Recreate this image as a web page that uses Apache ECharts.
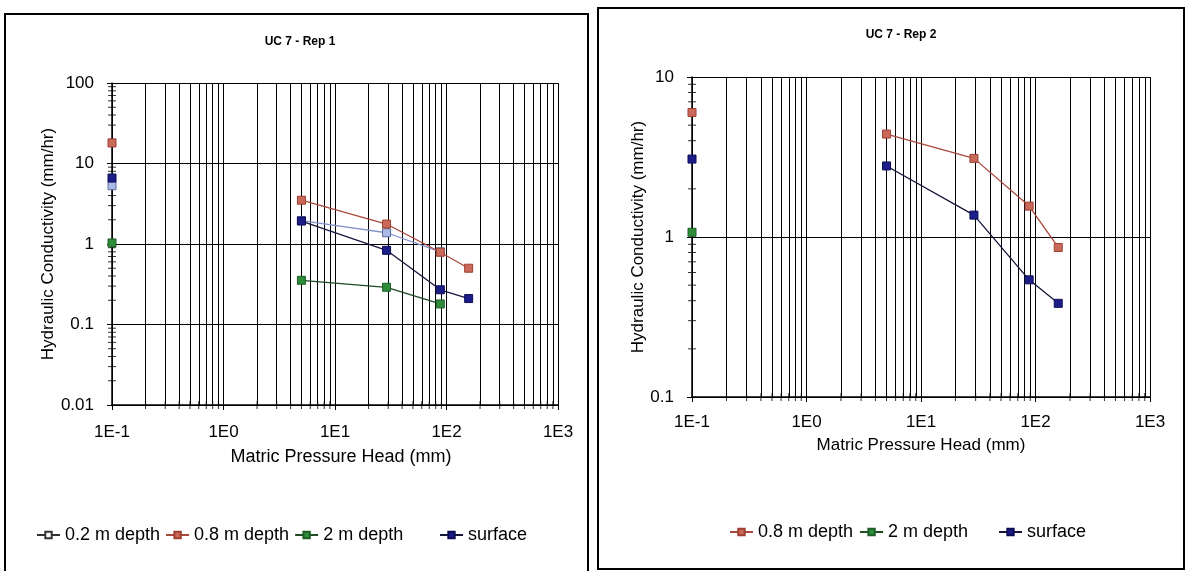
<!DOCTYPE html>
<html><head><meta charset="utf-8">
<script src="https://cdn.jsdelivr.net/npm/echarts@6/dist/echarts.min.js"></script>
<style>html,body{margin:0;padding:0;background:#fff}#c{width:1189px;height:571px}</style>
</head><body><div id="c"></div>
<script>
// ---- data ----
const titles = ['UC 7 - Rep 1', 'UC 7 - Rep 2'];
const xTickLabels = ['1E-1', '1E0', '1E1', '1E2', '1E3'];
const yTickLabelsRep1 = ['0.01', '0.1', '1', '10', '100'];
const yTickLabelsRep2 = ['0.1', '1', '10'];
const pressureHead = [0.1, 5, 29, 88, 158];           // mm (first value: saturated, plotted at axis)
const rep1_02m   = [5.3, 1.95, 1.38, 0.80, null];
const rep1_08m   = [18, 3.5, 1.77, 0.79, 0.50];
const rep1_2m    = [1.03, 0.354, 0.29, 0.18, null];
const rep1_surf  = [6.6, 1.93, 0.835, 0.27, 0.21];
const rep2_08m   = [6.0, 4.4, 3.1, 1.56, 0.86];
const rep2_2m    = [1.07, null, null, null, null];
const rep2_surf  = [3.07, 2.78, 1.37, 0.54, 0.385];
const minorMult  = [2, 3, 4, 5, 6, 7, 8, 9];

// ---- helpers ----
function pts(ys) {
  const out = [];
  ys.forEach((y, i) => {
    if (i === 1) out.push(['-', '-']);          // no line from the axis point
    if (y !== null) out.push([pressureHead[i], y]);
  });
  return out;
}
function minorVals(minExp, maxExp) {
  const v = [];
  for (let e = minExp; e < maxExp; e++) minorMult.forEach(m => v.push(+(m * Math.pow(10, e)).toPrecision(3)));
  return v;
}
const xMinor = minorVals(-1, 3);
const FONT = 'Liberation Sans, Arial, sans-serif';

const sty = {
  '0.2 m depth': {c: '#aab9e6', b: '#5d6c9c', l: '#8396cc'},
  '0.8 m depth': {c: '#c9695a', b: '#9e3f31', l: '#a9483a'},
  '2 m depth':   {c: '#2f8c3b', b: '#1e5e27', l: '#1d4a22'},
  'surface':     {c: '#1d1d8a', b: '#0d0d55', l: '#15153a'}
};
function lineSeries(name, ys, gi) {
  const s = sty[name];
  return {
    type: 'line', name, xAxisIndex: gi, yAxisIndex: gi, data: pts(ys),
    symbol: 'rect', symbolSize: 8, clip: false, connectNulls: false,
    itemStyle: {color: s.c, borderColor: s.b, borderWidth: 1},
    lineStyle: {color: s.l, width: 1.3}, z: 5
  };
}
function gridDecor(gi, yMinExp, yMaxExp) {
  const yMin = Math.pow(10, yMinExp);
  return [
    { type: 'line', xAxisIndex: gi, yAxisIndex: gi, data: [], silent: true,
      markLine: { silent: true, symbol: 'none', label: {show: false},
        lineStyle: {color: '#000', width: 1, type: 'solid'},
        data: xMinor.map(v => ({xAxis: v})) } },
    { type: 'scatter', xAxisIndex: gi, yAxisIndex: gi, silent: true, clip: false,
      symbol: 'rect', symbolSize: [8, 1], itemStyle: {color: '#000'},
      data: minorVals(yMinExp, yMaxExp).map(v => [0.1, v]), z: 3 },
    { type: 'scatter', xAxisIndex: gi, yAxisIndex: gi, silent: true, clip: false,
      symbol: 'rect', symbolSize: [1, 8], itemStyle: {color: '#000'},
      data: xMinor.map(v => [v, yMin]), z: 3 }
  ];
}
function xAxis(gi, margin, nameGap, nameSize, pad) {
  return {
    type: 'log', logBase: 10, min: 0.1, max: 1000, gridIndex: gi,
    name: 'Matric Pressure Head (mm)', nameLocation: 'middle', nameGap,
    nameTextStyle: {fontFamily: FONT, fontSize: nameSize, color: '#000', padding: pad},
    axisLine: {lineStyle: {color: '#000', width: 1.5}},
    axisTick: {show: true, inside: false, length: 5, lineStyle: {color: '#000'}},
    axisLabel: {fontFamily: FONT, fontSize: 17, color: '#000', margin,
      formatter: v => xTickLabels[Math.round(Math.log10(v)) + 1]},
    splitLine: {show: true, lineStyle: {color: '#000', width: 1}},
    minorTick: {show: false}, minorSplitLine: {show: false}
  };
}
function yAxis(gi, min, max, labels, minExp, nameGap, nameSize) {
  return {
    type: 'log', logBase: 10, min, max, gridIndex: gi,
    name: 'Hydraulic Conductivity (mm/hr)', nameLocation: 'middle', nameGap, nameRotate: 90,
    nameTextStyle: {fontFamily: FONT, fontSize: nameSize, color: '#000'},
    axisLine: {lineStyle: {color: '#000', width: 1.5}},
    axisTick: {show: true, inside: false, length: 5, lineStyle: {color: '#000'}},
    axisLabel: {fontFamily: FONT, fontSize: 17, color: '#000', margin: 18,
      formatter: v => labels[Math.round(Math.log10(v)) - minExp]},
    splitLine: {show: true, lineStyle: {color: '#000', width: 1}},
    minorTick: {show: false}, minorSplitLine: {show: false}
  };
}
const legendText = {fontFamily: FONT, fontSize: 18, color: '#000'};

const option = {
  backgroundColor: '#fff',
  animation: false,
  graphic: [
    {type: 'rect', shape: {x: 5, y: 14, width: 583, height: 570}, style: {fill: 'none', stroke: '#000', lineWidth: 2}},
    {type: 'rect', shape: {x: 598, y: 8, width: 586, height: 561}, style: {fill: 'none', stroke: '#000', lineWidth: 2}}
  ],
  title: [
    {text: titles[0], left: 295, top: 31, textAlign: 'center',
      textStyle: {fontFamily: FONT, fontSize: 12, fontWeight: 'bold', color: '#000'}},
    {text: titles[1], left: 896, top: 24, textAlign: 'center',
      textStyle: {fontFamily: FONT, fontSize: 12, fontWeight: 'bold', color: '#000'}}
  ],
  legend: [
    {left: 31, top: 521, itemGap: 5, itemWidth: 23, itemHeight: 8, textStyle: legendText,
      data: [
        {name: '0.2 m depth', itemStyle: {color: '#fff', borderColor: '#333'}, lineStyle: {color: '#333'}},
        {name: '0.8 m depth'}, {name: '2 m depth'}]},
    {left: 434, top: 521, itemWidth: 23, itemHeight: 8, textStyle: legendText,
      data: ['surface']},
    {left: 724, top: 518, itemGap: 6, itemWidth: 23, itemHeight: 8, textStyle: legendText,
      data: ['0.8 m depth', '2 m depth']},
    {left: 993, top: 518, itemWidth: 23, itemHeight: 8, textStyle: legendText,
      data: ['surface']}
  ],
  grid: [
    {left: 112, top: 83, width: 446, height: 322},
    {left: 692, top: 77, width: 458, height: 320}
  ],
  xAxis: [xAxis(0, 19, 43, 18, [0, 0, 0, 12]), xAxis(1, 17, 40, 17, [0, 0, 0, 0])],
  yAxis: [yAxis(0, 0.01, 100, yTickLabelsRep1, -2, 51, 17), yAxis(1, 0.1, 10, yTickLabelsRep2, -1, 32, 17)],
  series: [
    ...gridDecor(0, -2, 2),
    ...gridDecor(1, -1, 1),
    lineSeries('0.2 m depth', rep1_02m, 0),
    lineSeries('0.8 m depth', rep1_08m, 0),
    lineSeries('2 m depth', rep1_2m, 0),
    lineSeries('surface', rep1_surf, 0),
    lineSeries('0.8 m depth', rep2_08m, 1),
    lineSeries('2 m depth', rep2_2m, 1),
    lineSeries('surface', rep2_surf, 1)
  ]
};
const chart = echarts.init(document.getElementById('c'), null, {renderer: 'canvas'});
chart.setOption(option);
</script></body></html>
